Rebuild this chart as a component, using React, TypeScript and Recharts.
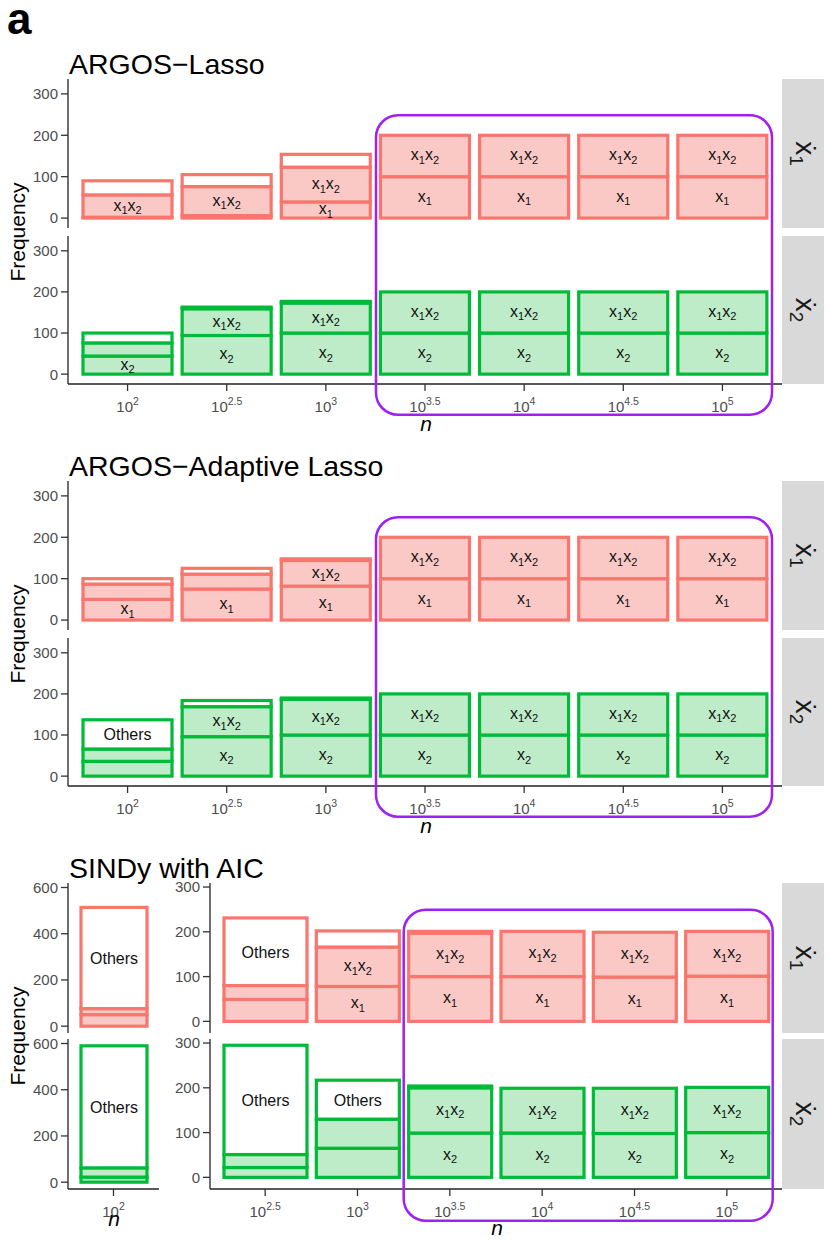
import React from 'react';
import { BarChart, Bar, XAxis, YAxis } from 'recharts';

type Seg = [number, string];
type Pal = { stroke: string; fill: string };

// x categories are the exponents of n = 10^k
const expAll = ['2', '2.5', '3', '3.5', '4', '4.5', '5'];
const expSindyLeft = ['2'];
const expSindyRight = ['2.5', '3', '3.5', '4', '4.5', '5'];

const ticks300 = [0, 100, 200, 300];
const ticks600 = [0, 200, 400, 600];

// stacks, bottom to top: [frequency, term] ; 'f' = coloured, no label, 'w' = white, no label
const lassoDx1: Seg[][] = [
  [[2, 'f'], [54, 'x1x2'], [34, 'w']],
  [[6, 'f'], [70, 'x1x2'], [29, 'w']],
  [[39, 'x1'], [84, 'x1x2'], [31, 'w']],
  [[100, 'x1'], [100, 'x1x2']],
  [[100, 'x1'], [100, 'x1x2']],
  [[100, 'x1'], [100, 'x1x2']],
  [[100, 'x1'], [100, 'x1x2']],
];
const lassoDx2: Seg[][] = [
  [[44, 'x2'], [32, 'f'], [24, 'w']],
  [[94, 'x2'], [65, 'x1x2'], [4, 'f']],
  [[100, 'x2'], [73, 'x1x2'], [4, 'f']],
  [[100, 'x2'], [100, 'x1x2']],
  [[100, 'x2'], [100, 'x1x2']],
  [[100, 'x2'], [100, 'x1x2']],
  [[100, 'x2'], [100, 'x1x2']],
];

const adaDx1: Seg[][] = [
  [[50, 'x1'], [37, 'f'], [13, 'w']],
  [[75, 'x1'], [36, 'f'], [14, 'w']],
  [[82, 'x1'], [62, 'x1x2'], [4, 'f']],
  [[100, 'x1'], [100, 'x1x2']],
  [[100, 'x1'], [100, 'x1x2']],
  [[100, 'x1'], [100, 'x1x2']],
  [[100, 'x1'], [100, 'x1x2']],
];
const adaDx2: Seg[][] = [
  [[36, 'f'], [30, 'f'], [71, 'Others']],
  [[96, 'x2'], [73, 'x1x2'], [15, 'w']],
  [[100, 'x2'], [87, 'x1x2'], [3, 'f']],
  [[100, 'x2'], [100, 'x1x2']],
  [[100, 'x2'], [100, 'x1x2']],
  [[100, 'x2'], [100, 'x1x2']],
  [[100, 'x2'], [100, 'x1x2']],
];

const sindyLeftDx1: Seg[][] = [[[50, 'f'], [26, 'f'], [438, 'Others']]];
const sindyLeftDx2: Seg[][] = [[[22, 'f'], [40, 'f'], [528, 'Others']]];

const sindyDx1: Seg[][] = [
  [[49, 'f'], [31, 'f'], [151, 'Others']],
  [[78, 'x1'], [88, 'x1x2'], [36, 'w']],
  [[100, 'x1'], [97, 'x1x2'], [4, 'f']],
  [[100, 'x1'], [101, 'x1x2']],
  [[99, 'x1'], [100, 'x1x2']],
  [[101, 'x1'], [100, 'x1x2']],
];
const sindyDx2: Seg[][] = [
  [[22, 'f'], [29, 'f'], [244, 'Others']],
  [[65, 'f'], [65, 'f'], [87, 'Others']],
  [[99, 'x2'], [101, 'x1x2'], [4, 'f']],
  [[99, 'x2'], [100, 'x1x2']],
  [[98, 'x2'], [101, 'x1x2']],
  [[100, 'x2'], [101, 'x1x2']],
];

const red: Pal = { stroke: '#F8766D', fill: '#FAC9C6' };
const green: Pal = { stroke: '#00BA38', fill: '#BEECC9' };

const FONT = '"Liberation Sans", Arial, Helvetica, sans-serif';
const YW = 60; // y axis width inside each chart
const PADV = 12; // room above/below each plot for tick labels

function TermText({ kind, x, y }: { kind: string; x: number; y: number }) {
  const common = { x, y: y + 4.5, textAnchor: 'middle' as const, fontSize: 16, fill: '#111' };
  if (kind === 'Others') return <text {...common} y={y + 6}>Others</text>;
  if (kind === 'x1' || kind === 'x2')
    return (
      <text {...common}>
        x<tspan dy={3.5} fontSize={11}>{kind[1]}</tspan>
      </text>
    );
  if (kind === 'x1x2')
    return (
      <text {...common}>
        x<tspan dy={3.5} fontSize={11}>1</tspan>
        <tspan dy={-3.5}>x</tspan>
        <tspan dy={3.5} fontSize={11}>2</tspan>
      </text>
    );
  return null;
}

const makeShape = (j: number, pal: Pal) => (p: any) => {
  const kind: string = p.payload ? p.payload['k' + j] : '';
  const h = Math.abs(p.height || 0);
  if (!kind || !h) return <g />;
  const y = Math.min(p.y, p.y + p.height);
  const white = kind === 'w' || kind === 'Others';
  return (
    <g>
      <rect x={p.x} y={y} width={p.width} height={h} fill={white ? '#FFFFFF' : pal.fill} stroke={pal.stroke} strokeWidth={3.2} />
      <TermText kind={kind} x={p.x + p.width / 2} y={y + h / 2} />
    </g>
  );
};

type FacetProps = {
  stacks: Seg[][];
  cats: string[];
  pal: Pal;
  left: number;
  top: number;
  plotW: number;
  plotH: number;
  domain: [number, number];
  ticks: number[];
  pad: number;
  barSize: number;
  showX?: boolean;
};

function Facet({ stacks, cats, pal, left, top, plotW, plotH, domain, ticks, pad, barSize, showX }: FacetProps) {
  const rows = cats.map((n, i) => {
    const r: Record<string, any> = { n };
    for (let j = 0; j < 3; j++) {
      const s = stacks[i][j];
      r['v' + j] = s ? s[0] : 0;
      r['k' + j] = s ? s[1] : '';
    }
    return r;
  });
  const xh = showX ? 40 : 0;
  const axisY = PADV + plotH;
  const axisStyle = { stroke: '#222', strokeWidth: 1.3 };
  const powerTick = (p: any) => (
    <g>
      <line x1={p.x} x2={p.x} y1={axisY} y2={axisY + 7} stroke="#333" strokeWidth={1.3} />
      <text x={p.x} y={axisY + 27.5} textAnchor="middle" fill="#4D4D4D" fontSize={15}>
        10<tspan dy={-7} fontSize={10.5}>{p.payload.value}</tspan>
      </text>
    </g>
  );
  const valueTick = (p: any) => (
    <g>
      <line x1={YW - 7} x2={YW} y1={p.y} y2={p.y} stroke="#333" strokeWidth={1.3} />
      <text x={YW - 10} y={p.y} dy="0.36em" textAnchor="end" fill="#4D4D4D" fontSize={15}>
        {p.payload.value}
      </text>
    </g>
  );
  return (
    <div style={{ position: 'absolute', left: left - YW, top: top - PADV }}>
      <BarChart
        width={YW + plotW}
        height={PADV + plotH + (showX ? xh : PADV)}
        data={rows}
        margin={{ top: PADV, right: 0, bottom: showX ? 0 : PADV, left: 0 }}
      >
        <XAxis
          dataKey="n"
          hide={!showX}
          height={xh}
          padding={{ left: pad, right: pad }}
          interval={0}
          axisLine={axisStyle}
          tickLine={false}
          tick={powerTick}
        />
        <YAxis
          type="number"
          domain={domain}
          ticks={ticks}
          allowDataOverflow
          interval={0}
          width={YW}
          axisLine={axisStyle}
          tickLine={false}
          tick={valueTick}
        />
        {[0, 1, 2].map((j) => (
          <Bar key={j} dataKey={'v' + j} stackId="s" barSize={barSize} isAnimationActive={false} shape={makeShape(j, pal)} />
        ))}
      </BarChart>
    </div>
  );
}

function Strip({ y, h, sub }: { y: number; h: number; sub: string }) {
  const cy = y + h / 2;
  return (
    <g>
      <rect x={782} y={y} width={42} height={h} fill="#D9D9D9" />
      <text transform={`translate(803,${cy}) rotate(90)`} y={7} textAnchor="middle" fontSize={28} fill="#1A1A1A">
        ẋ<tspan dy={6} fontSize={19}>{sub}</tspan>
      </text>
    </g>
  );
}

function Freq({ cy }: { cy: number }) {
  return (
    <text transform={`translate(25,${cy}) rotate(-90)`} textAnchor="middle" fontSize={21} fill="#000">
      Frequency
    </text>
  );
}

function NLabel({ x, y }: { x: number; y: number }) {
  return (
    <text x={x} y={y} textAnchor="middle" fontSize={21} fontStyle="italic" fill="#000">
      n
    </text>
  );
}

const PURPLE = '#A020F0';

export default function App() {
  const row = { plotW: 714, plotH: 149, domain: [-24, 336] as [number, number], ticks: ticks300, pad: 10, barSize: 89, left: 68 };
  return (
    <div style={{ position: 'absolute', left: 0, top: 0, width: 830, height: 1246, background: '#fff', fontFamily: FONT }}>
      {/* ARGOS-Lasso */}
      <Facet {...row} stacks={lassoDx1} cats={expAll} pal={red} top={79} />
      <Facet {...row} stacks={lassoDx2} cats={expAll} pal={green} top={236} plotH={148} showX />
      {/* ARGOS-Adaptive Lasso */}
      <Facet {...row} stacks={adaDx1} cats={expAll} pal={red} top={481} />
      <Facet {...row} stacks={adaDx2} cats={expAll} pal={green} top={638} plotH={148} showX />
      {/* SINDy with AIC */}
      <Facet stacks={sindyLeftDx1} cats={expSindyLeft} pal={red} left={68} top={883} plotW={91} plotH={150} domain={[-29.5, 619.5]} ticks={ticks600} pad={0} barSize={66} />
      <Facet stacks={sindyLeftDx2} cats={expSindyLeft} pal={green} left={68} top={1039} plotW={91} plotH={150} domain={[-29.5, 619.5]} ticks={ticks600} pad={0} barSize={66} showX />
      <Facet stacks={sindyDx1} cats={expSindyRight} pal={red} left={210} top={883} plotW={572} plotH={150} domain={[-26, 309]} ticks={ticks300} pad={9} barSize={83} />
      <Facet stacks={sindyDx2} cats={expSindyRight} pal={green} left={210} top={1039} plotW={572} plotH={150} domain={[-26, 309]} ticks={ticks300} pad={9} barSize={83} showX />

      <svg width={830} height={1246} style={{ position: 'absolute', left: 0, top: 0, pointerEvents: 'none' }} fontFamily={FONT}>
        <text x={7} y={34} fontSize={44} fontWeight="bold" fill="#000">a</text>

        <text x={69} y={74} fontSize={28.5} fill="#000">ARGOS−Lasso</text>
        <Strip y={79} h={149} sub="1" />
        <Strip y={236} h={148} sub="2" />
        <Freq cy={232} />
        <NLabel x={426} y={431} />
        <rect x={376} y={115.3} width={396} height={299.4} rx={22} fill="none" stroke={PURPLE} strokeWidth={2.5} />

        <text x={69} y={476} fontSize={28.5} fill="#000">ARGOS−Adaptive Lasso</text>
        <Strip y={481} h={149} sub="1" />
        <Strip y={638} h={148} sub="2" />
        <Freq cy={634} />
        <NLabel x={426} y={833} />
        <rect x={376} y={517.3} width={396} height={299.4} rx={22} fill="none" stroke={PURPLE} strokeWidth={2.5} />

        <text x={69} y={878} fontSize={28.5} fill="#000">SINDy with AIC</text>
        <Strip y={883} h={150} sub="1" />
        <Strip y={1039} h={150} sub="2" />
        <Freq cy={1036} />
        <NLabel x={114} y={1226} />
        <NLabel x={497} y={1235} />
        <rect x={403.7} y={909.8} width={369} height={310.9} rx={22} fill="none" stroke={PURPLE} strokeWidth={2.5} />
      </svg>
    </div>
  );
}
